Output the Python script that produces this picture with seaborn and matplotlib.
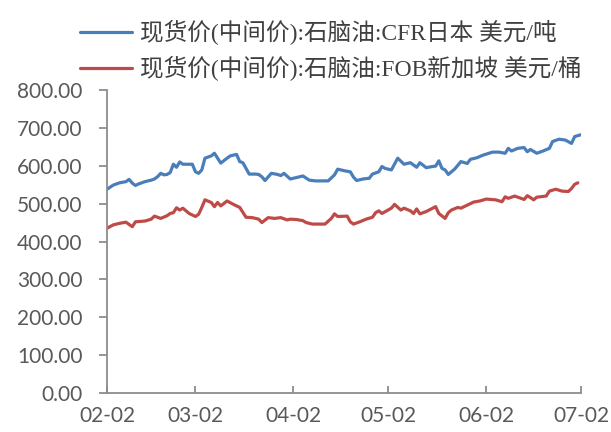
import matplotlib
matplotlib.use("Agg")
import matplotlib.pyplot as plt
import matplotlib.dates as mdates
from matplotlib.font_manager import FontProperties
import pandas as pd
import seaborn as sns

# 石脑油 CFR 日本 (美元/吨)
cfr_dates = [
    "2021-02-02", "2021-02-04", "2021-02-06", "2021-02-08", "2021-02-09", "2021-02-10",
    "2021-02-11", "2021-02-12", "2021-02-14", "2021-02-16", "2021-02-17", "2021-02-18",
    "2021-02-19", "2021-02-20", "2021-02-21", "2021-02-22", "2021-02-23", "2021-02-24",
    "2021-02-25", "2021-02-26", "2021-02-28", "2021-03-01", "2021-03-02", "2021-03-03",
    "2021-03-04", "2021-03-05", "2021-03-07", "2021-03-08", "2021-03-10", "2021-03-12",
    "2021-03-13", "2021-03-15", "2021-03-16", "2021-03-17", "2021-03-19", "2021-03-21",
    "2021-03-22", "2021-03-23", "2021-03-24", "2021-03-26", "2021-03-28", "2021-03-29",
    "2021-03-30", "2021-04-01", "2021-04-02", "2021-04-03", "2021-04-05", "2021-04-07",
    "2021-04-09", "2021-04-11", "2021-04-13", "2021-04-15", "2021-04-16", "2021-04-18",
    "2021-04-20", "2021-04-21", "2021-04-22", "2021-04-24", "2021-04-26", "2021-04-27",
    "2021-04-29", "2021-04-30", "2021-05-01", "2021-05-03", "2021-05-05", "2021-05-07",
    "2021-05-09", "2021-05-11", "2021-05-12", "2021-05-14", "2021-05-16", "2021-05-17",
    "2021-05-18", "2021-05-19", "2021-05-20", "2021-05-21", "2021-05-23", "2021-05-25",
    "2021-05-27", "2021-05-28", "2021-05-30", "2021-06-01", "2021-06-04", "2021-06-06",
    "2021-06-08", "2021-06-09", "2021-06-10", "2021-06-12", "2021-06-14", "2021-06-15",
    "2021-06-16", "2021-06-18", "2021-06-20", "2021-06-22", "2021-06-23", "2021-06-25",
    "2021-06-27", "2021-06-29", "2021-06-30", "2021-07-02",
]
cfr_values = [
    538, 549, 555, 558, 564, 554,
    548, 552, 558, 562, 565, 571,
    580, 576, 577, 582, 604, 596,
    610, 604, 604, 604, 584, 580,
    589, 620, 626, 633, 607, 620,
    626, 630, 611, 608, 578, 578,
    577, 571, 561, 580, 577, 574,
    580, 565, 567, 569, 573, 562,
    560, 560, 560, 576, 591, 587,
    584, 570, 561, 565, 567, 578,
    584, 598, 593, 589, 620, 604,
    608, 596, 608, 595, 598, 599,
    613, 593, 589, 577, 591, 611,
    606, 617, 621, 628, 636, 636,
    633, 646, 639, 646, 648, 637,
    643, 633, 639, 646, 664, 670,
    668, 659, 677, 682,
]

# 石脑油 FOB 新加坡 (美元/桶)
fob_dates = [
    "2021-02-02", "2021-02-04", "2021-02-06", "2021-02-08", "2021-02-10", "2021-02-11",
    "2021-02-14", "2021-02-16", "2021-02-17", "2021-02-19", "2021-02-21", "2021-02-22",
    "2021-02-23", "2021-02-24", "2021-02-25", "2021-02-26", "2021-02-28", "2021-03-02",
    "2021-03-03", "2021-03-04", "2021-03-05", "2021-03-07", "2021-03-08", "2021-03-09",
    "2021-03-10", "2021-03-12", "2021-03-14", "2021-03-16", "2021-03-18", "2021-03-20",
    "2021-03-22", "2021-03-23", "2021-03-25", "2021-03-27", "2021-03-29", "2021-03-31",
    "2021-04-01", "2021-04-03", "2021-04-05", "2021-04-06", "2021-04-08", "2021-04-10",
    "2021-04-12", "2021-04-14", "2021-04-15", "2021-04-16", "2021-04-19", "2021-04-20",
    "2021-04-21", "2021-04-23", "2021-04-25", "2021-04-27", "2021-04-28", "2021-04-29",
    "2021-04-30", "2021-05-03", "2021-05-04", "2021-05-06", "2021-05-07", "2021-05-09",
    "2021-05-10", "2021-05-11", "2021-05-12", "2021-05-14", "2021-05-17", "2021-05-18",
    "2021-05-20", "2021-05-21", "2021-05-22", "2021-05-24", "2021-05-25", "2021-05-27",
    "2021-05-29", "2021-05-31", "2021-06-02", "2021-06-05", "2021-06-07", "2021-06-08",
    "2021-06-09", "2021-06-11", "2021-06-14", "2021-06-15", "2021-06-16", "2021-06-17",
    "2021-06-18", "2021-06-21", "2021-06-22", "2021-06-24", "2021-06-26", "2021-06-28",
    "2021-06-29", "2021-06-30", "2021-07-01",
]
fob_values = [
    435, 444, 448, 451, 439, 452,
    454, 459, 467, 461, 468, 474,
    476, 489, 483, 488, 474, 466,
    472, 490, 510, 503, 492, 503,
    494, 507, 498, 490, 464, 463,
    459, 450, 463, 461, 463, 457,
    459, 458, 455, 450, 446, 446,
    446, 461, 473, 466, 467, 452,
    446, 452, 459, 464, 476, 481,
    474, 488, 498, 483, 488, 481,
    474, 486, 473, 479, 492, 474,
    461, 476, 483, 490, 488, 496,
    504, 507, 512, 510, 505, 518,
    514, 520, 511, 521, 516, 510,
    517, 520, 533, 538, 533, 532,
    540, 551, 555,
]

series_labels = [
    "现货价(中间价):石脑油:CFR日本 美元/吨",
    "现货价(中间价):石脑油:FOB新加坡 美元/桶",
]
series_colors = ["#4A7EBB", "#BE4B48"]

x_ticks = ["2021-02-02", "2021-03-02", "2021-04-02", "2021-05-02", "2021-06-02", "2021-07-02"]
y_ticks = [0, 100, 200, 300, 400, 500, 600, 700, 800]

sns.set_theme(style="white")
plt.rcParams["font.family"] = ["Lato", "DejaVu Sans"]

W, H = 611, 432
fig = plt.figure(figsize=(W / 100, H / 100), dpi=100)
ax = fig.add_axes([107 / W, 1 - 393 / H, (581 - 107) / W, (393 - 90) / H])

frames = [
    pd.DataFrame({"date": pd.to_datetime(cfr_dates), "value": cfr_values}),
    pd.DataFrame({"date": pd.to_datetime(fob_dates), "value": fob_values}),
]
for df, label, color in zip(frames, series_labels, series_colors):
    sns.lineplot(data=df, x="date", y="value", ax=ax, color=color,
                 linewidth=2.3, label=label)

ax.set_xlim(pd.Timestamp(x_ticks[0]), pd.Timestamp(x_ticks[-1]))
ax.set_ylim(y_ticks[0], y_ticks[-1])
ax.set_xticks(pd.to_datetime(x_ticks))
ax.xaxis.set_major_formatter(mdates.DateFormatter("%m-%d"))
ax.set_yticks(y_ticks)
ax.set_yticklabels([f"{v:.2f}" for v in y_ticks])
ax.set_xlabel("")
ax.set_ylabel("")

axis_gray = "#8C8C8C"
text_gray = "#595959"
for side in ("top", "right"):
    ax.spines[side].set_visible(False)
for side in ("left", "bottom"):
    ax.spines[side].set_color(axis_gray)
    ax.spines[side].set_linewidth(1.3)

ax.tick_params(axis="y", direction="out", length=5.5, width=1.3, color=axis_gray,
               labelsize=15, labelcolor=text_gray, pad=12, left=True)
ax.tick_params(axis="x", direction="in", length=5, width=1.3, color=axis_gray,
               labelsize=15, labelcolor=text_gray, pad=9, bottom=True)

legend_font = FontProperties(family=["Liberation Serif", "Noto Sans CJK SC"], size=17)
leg = ax.legend(loc="upper left", bbox_to_anchor=(80 / W, 1 - 20 / H),
                bbox_transform=fig.transFigure, frameon=False, prop=legend_font,
                handlelength=2.2, handletextpad=0.35, labelspacing=0.45,
                borderaxespad=0, borderpad=0)
for t in leg.get_texts():
    t.set_color("#404040")

fig.savefig("out.png", dpi=100)
